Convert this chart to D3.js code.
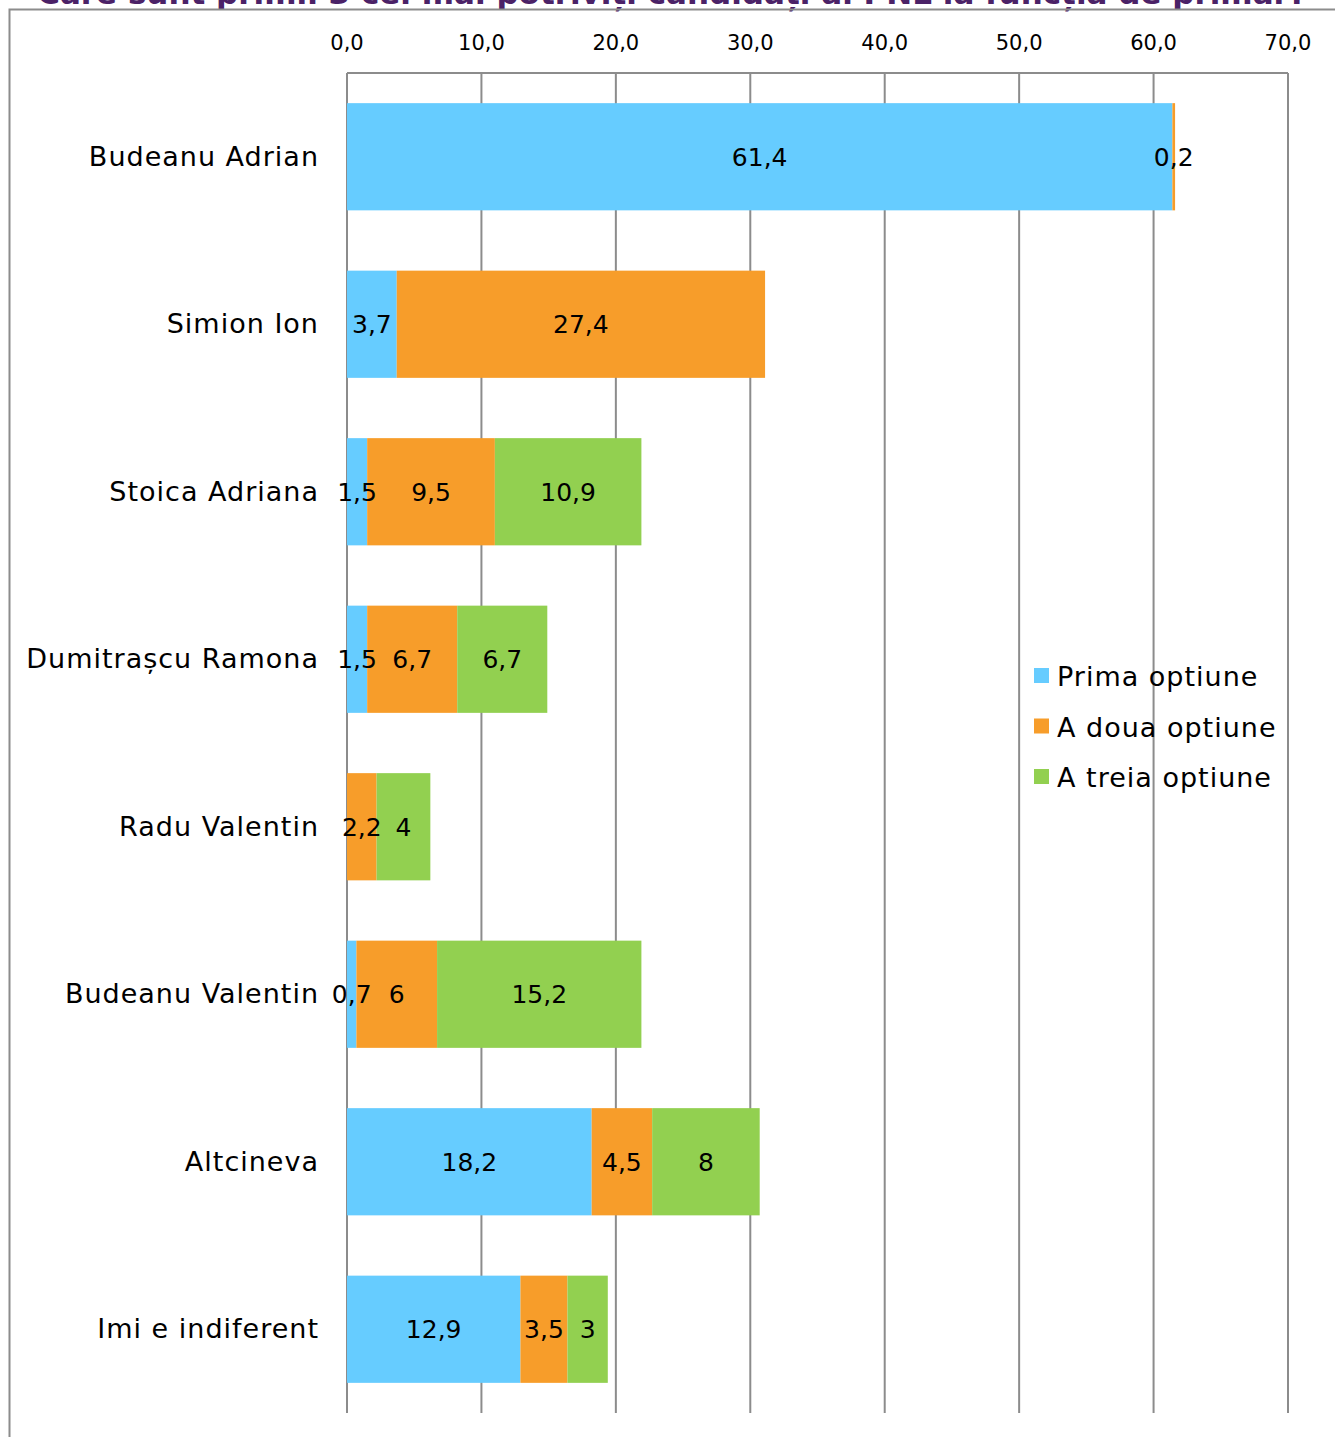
<!DOCTYPE html>
<html>
<head>
<meta charset="utf-8">
<script src="https://cdn.jsdelivr.net/npm/d3@7"></script>
<style>
  body { margin: 0; background: #fff; }
  text { font-family: "DejaVu Sans", sans-serif; fill: #000; }
</style>
</head>
<body>
<div id="chart"></div>
<script>
var width = 1335,
    height = 1437,
    margin = {top: 73, right: 47, bottom: 24, left: 347};

var categories = ["Budeanu Adrian", "Simion Ion", "Stoica Adriana", "Dumitrașcu Ramona",
                  "Radu Valentin", "Budeanu Valentin", "Altcineva", "Imi e indiferent"];
var seriesNames = ["Prima optiune", "A doua optiune", "A treia optiune"];
var prima  = [61.4, 3.7, 1.5, 1.5, 0, 0.7, 18.2, 12.9];
var adoua  = [0.2, 27.4, 9.5, 6.7, 2.2, 6, 4.5, 3.5];
var atreia = [0, 0, 10.9, 6.7, 4, 15.2, 8, 3];
var ticks = [0, 10, 20, 30, 40, 50, 60, 70];
var colors = ["#66CCFF", "#F79D2A", "#92D050"];
var title = "Care sunt primii 3 cei mai potriviți candidați ai PNL la funcția de primar?";

var rows = categories.map(function(c, i) {
  return {name: c, s0: prima[i], s1: adoua[i], s2: atreia[i]};
});

var svg = d3.select("#chart").append("svg")
  .attr("width", width)
  .attr("height", height);

// title is cropped at the top, like in the original
svg.append("text")
  .attr("x", 672).attr("y", 4)
  .attr("text-anchor", "middle")
  .style("font-size", "31px").style("font-weight", "bold")
  .style("fill", "#4B2267")
  .text(title);

svg.append("path")
  .attr("d", "M9.5,1437 V9.5 H1335")
  .attr("fill", "none").attr("stroke", "#8c8c8c").attr("stroke-width", 2);

var x = d3.scaleLinear().domain([0, 70]).range([margin.left, width - margin.right]);
var y = d3.scaleBand().domain(categories).range([margin.top, height - margin.bottom]).paddingInner(0.36).paddingOuter(0.18);

var fmt = function(v) { return d3.format(".1f")(v).replace(".", ","); };
var lab = function(v) { return String(v).replace(".", ","); };

// grid
svg.append("g").selectAll("line")
  .data(ticks)
  .enter().append("line")
  .attr("x1", function(d) { return x(d); })
  .attr("x2", function(d) { return x(d); })
  .attr("y1", margin.top)
  .attr("y2", height - margin.bottom)
  .attr("stroke", "#8c8c8c").attr("stroke-width", 2);

svg.append("line")
  .attr("x1", x(0)).attr("x2", x(70))
  .attr("y1", margin.top).attr("y2", margin.top)
  .attr("stroke", "#8c8c8c").attr("stroke-width", 2);

svg.append("g").selectAll("text")
  .data(ticks)
  .enter().append("text")
  .attr("x", function(d) { return x(d); })
  .attr("y", 50)
  .attr("text-anchor", "middle")
  .style("font-size", "21px")
  .text(fmt);

// bars
var stack = d3.stack().keys(["s0", "s1", "s2"]);
var layers = stack(rows);

var g = svg.append("g").selectAll("g")
  .data(layers)
  .enter().append("g")
  .attr("fill", function(d, i) { return colors[i]; });

g.selectAll("rect")
  .data(function(d) { return d; })
  .enter().append("rect")
  .filter(function(d) { return d[1] - d[0] > 0; })
  .attr("x", function(d) { return x(d[0]); })
  .attr("y", function(d) { return y(d.data.name); })
  .attr("width", function(d) { return x(d[1]) - x(d[0]); })
  .attr("height", y.bandwidth());

// value labels, on top of all bars
var segs = [];
layers.forEach(function(l) {
  l.forEach(function(d) { if (d[1] - d[0] > 0) segs.push(d); });
});

svg.append("g").selectAll("text")
  .data(segs)
  .enter().append("text")
  .attr("x", function(d) { return (x(d[0]) + x(d[1])) / 2; })
  .attr("y", function(d) { return y(d.data.name) + y.bandwidth() / 2 + 9; })
  .attr("text-anchor", "middle")
  .style("font-size", "25px")
  .text(function(d) { return lab(Math.round((d[1] - d[0]) * 10) / 10); });

// category labels
svg.append("g").selectAll("text")
  .data(categories)
  .enter().append("text")
  .attr("x", 319)
  .attr("y", function(d) { return y(d) + y.bandwidth() / 2 + 9; })
  .attr("text-anchor", "end")
  .style("font-size", "27px")
  .style("letter-spacing", "1px")
  .text(function(d) { return d; });

// legend
var legend = svg.append("g").selectAll("g")
  .data(seriesNames)
  .enter().append("g")
  .attr("transform", function(d, i) { return "translate(1034," + (668 + i * 50.5) + ")"; });

legend.append("rect")
  .attr("width", 15).attr("height", 15)
  .attr("fill", function(d, i) { return colors[i]; });

legend.append("text")
  .attr("x", 23).attr("y", 18)
  .style("font-size", "27px")
  .style("letter-spacing", "1px")
  .text(function(d) { return d; });
</script>
</body>
</html>
